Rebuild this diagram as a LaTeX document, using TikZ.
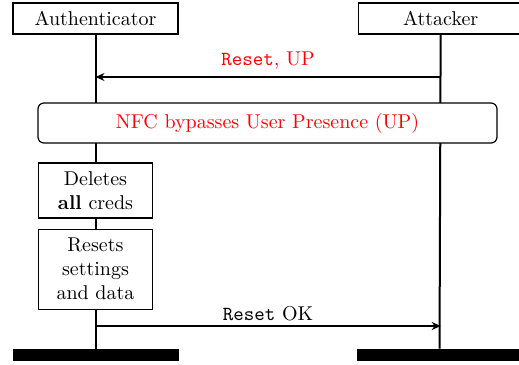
\documentclass[tikz,border=0pt]{standalone}
\usepackage{xcolor}
\usepackage{tikz}
\usetikzlibrary{positioning, arrows.meta}

\begin{document}
\begin{tikzpicture}[
    x=0.5pt, y=-0.5pt,
    actor/.style={rectangle, draw, semithick, minimum width=82.5pt, minimum height=15.5pt, inner sep=0pt},
    endbar/.style={rectangle, fill=black, minimum width=83pt, minimum height=6pt, inner sep=0pt},
    lifeline/.style={line width=1pt},
    callout/.style={rectangle, draw, semithick, rounded corners=3pt, fill=white, text=red, minimum width=229.5pt, minimum height=20pt},
    stepbox/.style={rectangle, draw, semithick, fill=white, text width=55pt, align=center, inner sep=1pt},
    msg/.style={-{Stealth[length=4.5pt, width=4pt]}, semithick},
]
\useasboundingbox (0,0) rectangle (519,364);
\node[actor] (auth) at (95.5,18.5) {Authenticator};
\node[actor, right=89.5pt of auth] (atk) {Attacker};
\node[endbar] (authend) at (95.5,355) {};
\node[endbar] (atkend) at (439.5,355) {};
\draw[lifeline] (auth) -- (authend);
\draw[lifeline] (atk) -- (atkend);

% messages
\coordinate (reqy) at (0,77);
\coordinate (respy) at (0,326);
\draw[msg] (reqy -| atk) -- (reqy -| auth) node[midway, above, text=red] {\texttt{Reset}, UP};

\node[callout] (nfc) at (267.5,123) {NFC bypasses User Presence (UP)};
\node[stepbox, minimum height=27.5pt] (deletes) at (95.5,190.5) {Deletes\\ \textbf{all} creds};
\node[stepbox, minimum height=40pt, below=5pt of deletes] (resets) {Resets\\ settings\\ and data};

\draw[msg] (respy -| auth) -- (respy -| atk) node[midway, above, inner sep=2pt] {\texttt{Reset} OK};
\end{tikzpicture}
\end{document}
